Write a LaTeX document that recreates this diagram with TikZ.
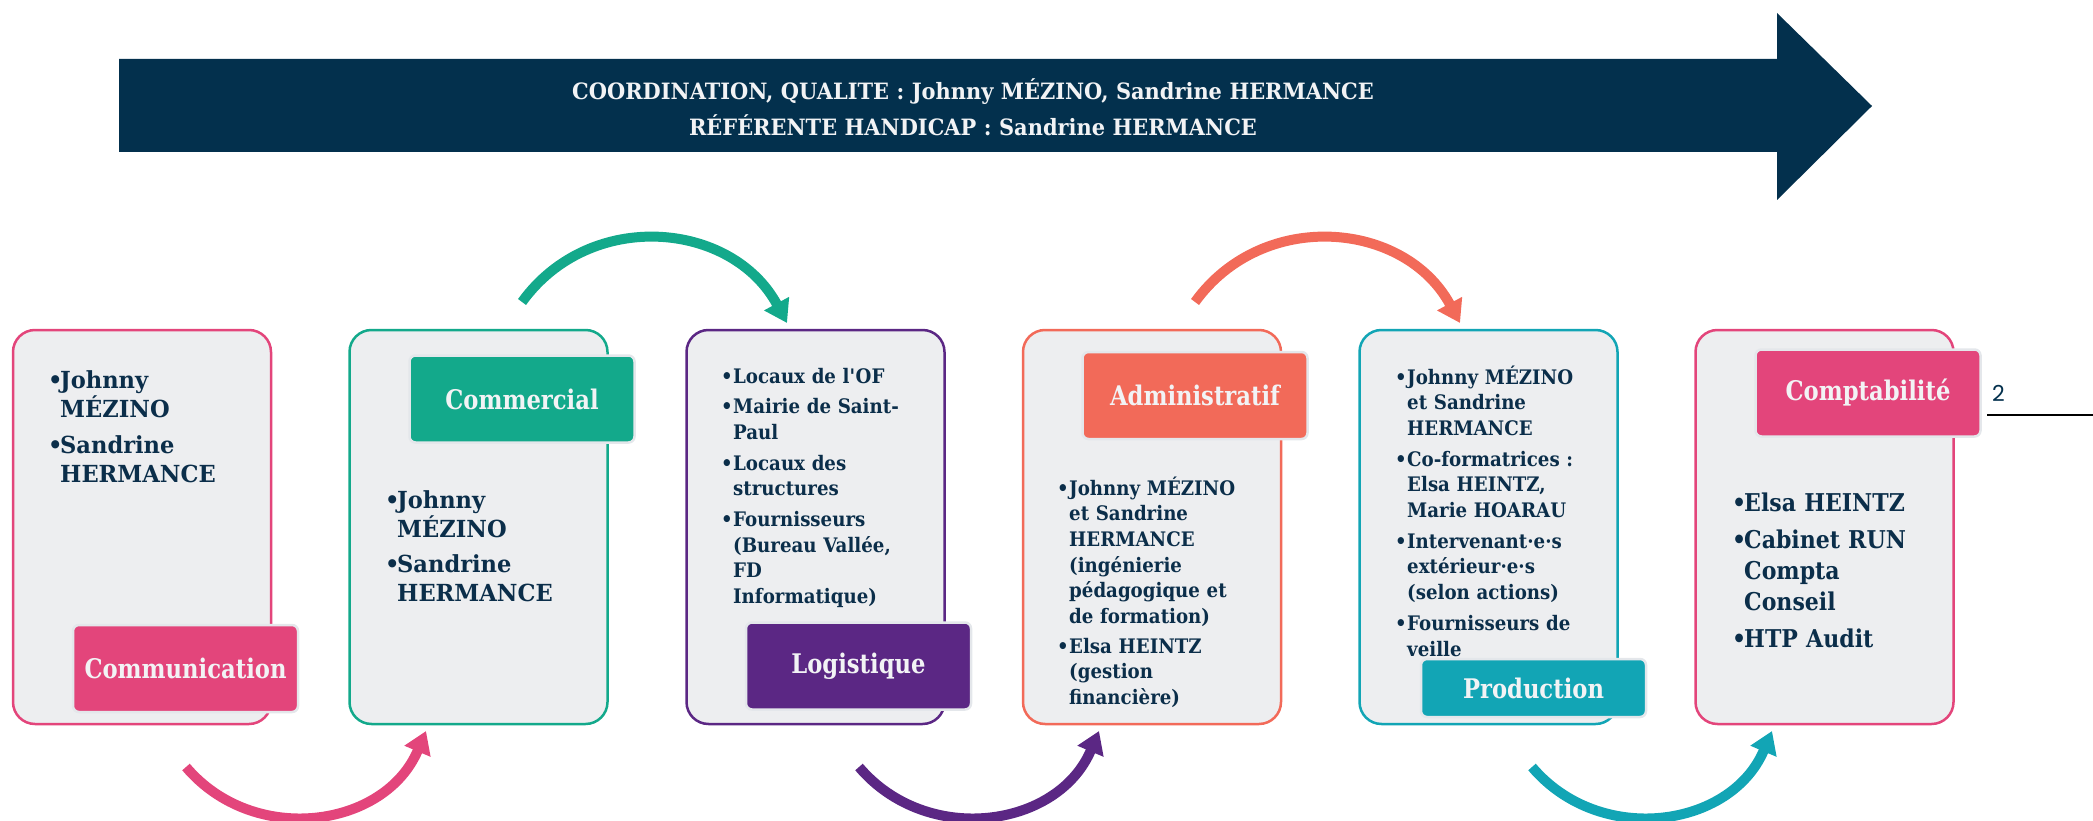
\documentclass[tikz,border=0pt]{standalone}
\usepackage{fontspec}
\setmainfont{DejaVu Serif}[FakeStretch=0.96]
\newfontfamily\midfont{DejaVu Serif}[FakeStretch=0.91]
\newfontfamily\sixfont{DejaVu Serif}[FakeStretch=0.90]
\newfontfamily\tabfont{DejaVu Serif}[FakeStretch=0.84]
\newfontfamily\headfont{DejaVu Serif}[FakeStretch=0.93]
\newfontfamily\numfont{Poppins}
\usetikzlibrary{arrows.meta}
\definecolor{navy}{HTML}{03304D}
\definecolor{ink}{HTML}{0B2E4A}
\definecolor{boxfill}{HTML}{EDEEF0}
\definecolor{cpink}{HTML}{E3457B}
\definecolor{cgreen}{HTML}{13A98B}
\definecolor{cpurple}{HTML}{5B2784}
\definecolor{ccoral}{HTML}{F26A59}
\definecolor{cblue}{HTML}{12A5B5}
\definecolor{tabedge}{HTML}{E4E7EB}
\definecolor{lighttxt}{HTML}{F2F3F5}
\newcommand\bu{\makebox[12pt][l]{•}}
\newcommand\ind{\hspace*{12pt}}
\begin{document}
\begin{tikzpicture}[x=1pt,y=-1pt,
  panel/.style={draw=#1, fill=boxfill, line width=2.5pt, rounded corners=22pt,
    minimum width=258pt, minimum height=394pt, inner sep=0pt},
  tab/.style={draw=tabedge, fill=#1, line width=2.5pt, rounded corners=6pt,
    minimum width=225pt, minimum height=87pt, inner sep=0pt, text=lighttxt,
    font=\tabfont\fontsize{27}{30}\selectfont\bfseries},
  bigtxt/.style={anchor=base west, inner sep=0pt, text=ink, text width=240pt, align=left,
    font=\fontsize{23.5}{29}\selectfont\bfseries},
  smalltxt/.style={anchor=base west, inner sep=0pt, text=ink, text width=240pt, align=left,
    font=\midfont\fontsize{20}{25.7}\selectfont\bfseries},
  curve/.style={draw=#1, line width=10pt, -{Triangle[width=27pt,length=22pt]}}
]
\useasboundingbox (0,0) rectangle (2093,821);

% big arrow
\fill[navy] (119,59) -- (1777,59) -- (1777,13) -- (1872,106) -- (1777,200) -- (1777,152) -- (119,152) -- cycle;
\node[anchor=base, inner sep=0pt, text=lighttxt, text width=1100pt, align=center,
  font=\headfont\fontsize{22.5}{36}\selectfont\bfseries] (head) at (973,100)
  {COORDINATION, QUALITE : Johnny MÉZINO, Sandrine HERMANCE\\RÉFÉRENTE HANDICAP : Sandrine HERMANCE};

% panels
\node[panel=cpink]   (b1) at (142,527) {};
\node[panel=cgreen]  (b2) at (478.5,527) {};
\node[panel=cpurple] (b3) at (815.5,527) {};
\node[panel=ccoral]  (b4) at (1152,527) {};
\node[panel=cblue]   (b5) at (1488.5,527) {};
\node[panel=cpink]   (b6) at (1824.5,527) {};

% tabs
\node[tab=cpink]   (t1) at (185.5,668.5) {Communication};
\node[tab=cgreen]  (t2) at (522,399) {Commercial};
\node[tab=cpurple] (t3) at (858.5,666) {Logistique};
\node[tab=ccoral]  (t4) at (1195,395.5) {Administratif};
\node[tab=cblue, minimum height=58pt] (t5) at (1533.5,688) {Production};
\node[tab=cpink]   (t6) at (1868,393) {Comptabilité};

% texts
\node[bigtxt] (x1) at (48,388) {\bu Johnny\\\ind MÉZINO\\[7pt]\bu Sandrine\\\ind HERMANCE};
\node[bigtxt] (x2) at (385,508) {\bu Johnny\\\ind MÉZINO\\[6pt]\bu Sandrine\\\ind HERMANCE};
\node[smalltxt] (x3) at (721,383) {\bu Locaux de l\textquotesingle OF\\[5pt]\bu Mairie de Saint-\\\ind Paul\\[5pt]\bu Locaux des\\\ind structures\\[5pt]\bu Fournisseurs\\\ind (Bureau Vallée,\\\ind FD\\\ind Informatique)};
\node[smalltxt] (x4) at (1057,495) {\bu Johnny MÉZINO\\\ind et Sandrine\\\ind HERMANCE\\\ind (ingénierie\\\ind pédagogique et\\\ind de formation)\\[4pt]\bu Elsa HEINTZ\\\ind (gestion\\\ind financière)};
\node[smalltxt] (x5) at (1395,384) {\bu Johnny MÉZINO\\\ind et Sandrine\\\ind HERMANCE\\[5pt]\bu Co-formatrices :\\\ind Elsa HEINTZ,\\\ind Marie HOARAU\\[5pt]\bu Intervenant·e·s\\\ind extérieur·e·s\\\ind (selon actions)\\[5pt]\bu Fournisseurs de\\\ind veille};
\node[bigtxt, font=\sixfont\fontsize{24.5}{31}\selectfont\bfseries] (x6) at (1732,511) {\bu Elsa HEINTZ\\[6pt]\bu Cabinet RUN\\\ind Compta\\\ind Conseil\\[6pt]\bu HTP Audit};

% curved arrows
\coordinate (g1) at (522,302);  \coordinate (g2) at (787,323);
\coordinate (c1) at (1195,302); \coordinate (c2) at (1460,323);
\coordinate (p1) at (186,767);  \coordinate (p2) at (426,731);
\coordinate (u1) at (859,767);  \coordinate (u2) at (1099,731);
\coordinate (q1) at (1532,767); \coordinate (q2) at (1772,731);
\draw[curve=cgreen]  (g1) .. controls (590,208) and (732,221) .. (g2);
\draw[curve=ccoral]  (c1) .. controls (1263,208) and (1405,221) .. (c2);
\draw[curve=cpink]   (p1) .. controls (254,847) and (385,828) .. (p2);
\draw[curve=cpurple] (u1) .. controls (927,847) and (1058,828) .. (u2);
\draw[curve=cblue]   (q1) .. controls (1600,847) and (1731,828) .. (q2);

% page number and rule
\node[anchor=base west, inner sep=0pt, text=navy, font=\numfont\fontsize{22}{24}\selectfont] (num) at (1992,401) {2};
\coordinate (r1) at (1987,415); \coordinate (r2) at (2093,415);
\draw[line width=2.5pt, black] (r1) -- (r2);
\end{tikzpicture}
\end{document}
